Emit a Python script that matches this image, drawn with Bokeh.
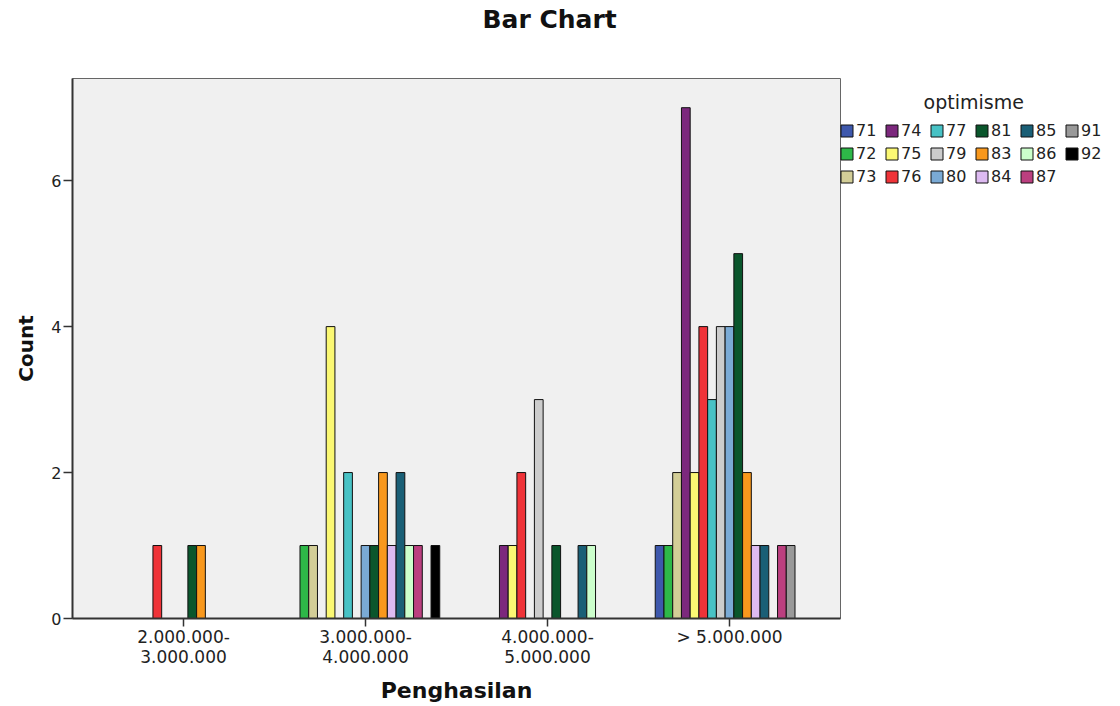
from bokeh.plotting import figure
from bokeh.models import (ColumnDataSource, Legend, LegendItem, Title,
                          FixedTicker, Range1d)
from bokeh.transform import dodge
from bokeh.embed import file_html
from bokeh.resources import INLINE

# Income groups (x categories)
penghasilan = ["2.000.000-\n3.000.000", "3.000.000-\n4.000.000",
               "4.000.000-\n5.000.000", "> 5.000.000"]

# optimisme score levels (clusters inside each income group)
optimisme = ["71", "72", "73", "74", "75", "76", "77", "79", "80",
             "81", "83", "84", "85", "86", "87", "91", "92"]

# counts per income group for each optimisme level
n71 = [0, 0, 0, 1]
n72 = [0, 1, 0, 1]
n73 = [0, 1, 0, 2]
n74 = [0, 0, 1, 7]
n75 = [0, 4, 1, 2]
n76 = [1, 0, 2, 4]
n77 = [0, 2, 0, 3]
n79 = [0, 0, 3, 4]
n80 = [0, 1, 0, 4]
n81 = [1, 1, 1, 5]
n83 = [1, 2, 0, 2]
n84 = [0, 1, 0, 1]
n85 = [0, 2, 1, 1]
n86 = [0, 1, 1, 0]
n87 = [0, 1, 0, 1]
n91 = [0, 0, 0, 1]
n92 = [0, 1, 0, 0]

series_counts = [n71, n72, n73, n74, n75, n76, n77, n79, n80,
                 n81, n83, n84, n85, n86, n87, n91, n92]

palette = ["#3E58AC", "#2EB848", "#D3CE97", "#7C287D", "#FBF873", "#EF3338",
           "#48C2C5", "#CCCCCC", "#7AAAD5", "#0A562C", "#F8981D", "#DDBAF1",
           "#1A5F76", "#CCFFCC", "#BB3F7F", "#999999", "#000000"]

FONT = "DejaVu Sans"
TEXT = "#222222"

p = figure(frame_width=768, frame_height=540,
           min_border_left=72, min_border_top=78,
           min_border_bottom=88, min_border_right=280,
           x_range=Range1d(-0.61, len(penghasilan) - 0.39),
           y_range=Range1d(0, 7.4),
           output_backend="svg", toolbar_location=None)

p.border_fill_color = "white"
p.background_fill_color = "#F0F0F0"
p.outline_line_color = "#666666"
p.outline_line_width = 1
p.xgrid.visible = False
p.ygrid.visible = False

# chart heading, kept at the top edge by an empty gap panel under it
p.title = Title(text="Bar Chart", align="left", offset=410,
                vertical_align="top", standoff=4,
                text_font=FONT, text_font_size="25px",
                text_font_style="bold", text_color="#111111")
p.add_layout(Title(text=" ", standoff=28, text_font_size="10px"), "above")

n_levels = len(optimisme)
bar_w = 0.048
items = []
for i, (lvl, counts, col) in enumerate(zip(optimisme, series_counts, palette)):
    xs = [k for k, c in enumerate(counts) if c > 0]
    tops = [c for c in counts if c > 0]
    src = ColumnDataSource(data=dict(x=xs, top=tops))
    r = p.vbar(x=dodge("x", (i - (n_levels - 1) / 2) * bar_w, range=p.x_range),
               top="top", width=bar_w, bottom=0, source=src,
               fill_color=col, line_color="#111111", line_width=1)
    items.append(LegendItem(label=lvl, renderers=[r]))

# axes
p.xaxis.ticker = FixedTicker(ticks=list(range(len(penghasilan))))
p.xaxis.major_label_overrides = {k: lab for k, lab in enumerate(penghasilan)}
p.yaxis.ticker = FixedTicker(ticks=[0, 2, 4, 6])
for ax in (p.xaxis[0], p.yaxis[0]):
    ax.axis_line_color = "#333333"
    ax.axis_line_width = 2
    ax.major_tick_line_color = "#333333"
    ax.major_tick_line_width = 1.5
    ax.major_tick_out = 9
    ax.major_tick_in = 0
    ax.minor_tick_line_color = None
    ax.major_label_text_font = FONT
    ax.major_label_text_font_size = "17px"
    ax.major_label_text_color = TEXT
    ax.axis_label_text_font = FONT
    ax.axis_label_text_font_style = "bold"
    ax.axis_label_text_color = "#111111"

p.xaxis.axis_label = "Penghasilan"
p.yaxis.axis_label = "Count"
p.xaxis.axis_label_text_font_size = "22px"
p.yaxis.axis_label_text_font_size = "20px"
p.yaxis.major_label_text_font_size = "16px"
p.xaxis.major_label_text_line_height = 1.0
p.xaxis.major_tick_out = 8
p.xaxis.major_label_standoff = 0
p.xaxis.axis_label_standoff = 8
p.yaxis.major_label_standoff = 2
p.yaxis.axis_label_standoff = 10

legend = Legend(items=items, nrows=3, orientation="vertical",
                location=(-1, 432), padding=0, margin=0, spacing=4,
                glyph_width=15, glyph_height=15, label_standoff=2,
                label_width=24, label_height=18,
                label_text_font=FONT, label_text_font_size="16px",
                label_text_color=TEXT,
                title="\u00a0" * 14 + "optimisme", title_text_font=FONT,
                title_text_font_size="19px", title_text_font_style="normal",
                title_text_color=TEXT, title_standoff=8,
                border_line_color=None, background_fill_alpha=0)
p.add_layout(legend, "right")

open("out.html", "w").write(file_html(p, INLINE))
